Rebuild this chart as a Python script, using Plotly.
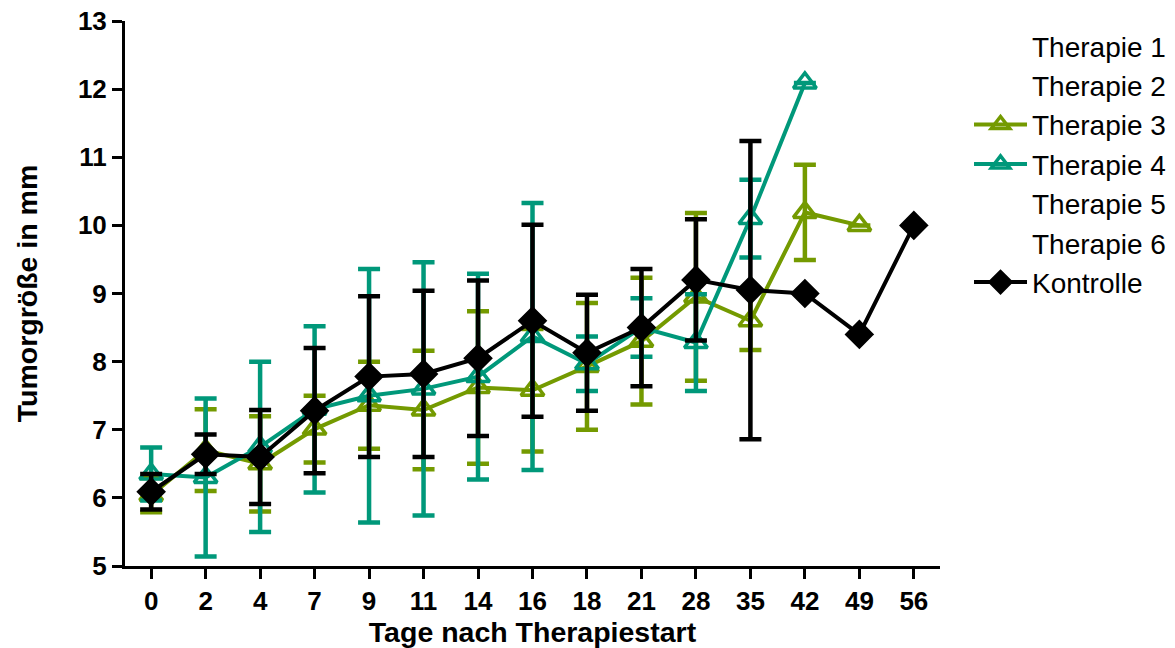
import plotly.graph_objects as go

days = ["0", "2", "4", "7", "9", "11", "14", "16", "18", "21", "28", "35", "42", "49", "56"]

therapie3_mean = [6.04, 6.70, 6.50, 7.01, 7.36, 7.29, 7.62, 7.58, 7.93, 8.30, 8.95, 8.60, 10.19, 10.0, None]
therapie3_sd = [0.25, 0.60, 0.70, 0.49, 0.64, 0.87, 1.12, 0.90, 0.93, 0.93, 1.23, 0.43, 0.70, None, None]

therapie4_mean = [6.35, 6.30, 6.75, 7.30, 7.50, 7.60, 7.78, 8.37, 7.97, 8.50, 8.28, 10.10, 12.09, None, None]
therapie4_sd = [0.39, 1.16, 1.25, 1.22, 1.86, 1.86, 1.51, 1.96, 0.40, 0.43, 0.71, 0.57, None, None, None]

kontrolle_mean = [6.09, 6.64, 6.60, 7.28, 7.78, 7.82, 8.05, 8.60, 8.13, 8.50, 9.20, 9.05, 9.00, 8.40, 10.0]
kontrolle_sd = [0.26, 0.29, 0.69, 0.92, 1.18, 1.22, 1.14, 1.41, 0.85, 0.86, 0.89, 2.19, None, None, None]

OLIVE = "#749A00"
TEAL = "#00987A"
BLACK = "#000000"
FONT = "Arial, Liberation Sans, sans-serif"

fig = go.Figure()

def empty(name):
    # series without any measured values: only its legend label is shown
    return go.Scatter(x=[days[0]], y=[None], name=name, mode="lines",
                      line=dict(color="rgba(0,0,0,0)", width=0))

def series(name, mean, sd, color, symbol, msize):
    return go.Scatter(
        x=days, y=mean, name=name, mode="lines+markers",
        line=dict(color=color, width=4),
        marker=dict(symbol=symbol, size=msize, color=color,
                    line=dict(color=color, width=3.5)),
        error_y=dict(type="data", array=sd, symmetric=True,
                     color=color, thickness=4.5, width=11),
        connectgaps=False,
    )

fig.add_trace(empty("Therapie 1"))
fig.add_trace(empty("Therapie 2"))
fig.add_trace(series("Therapie 3", therapie3_mean, therapie3_sd, OLIVE, "triangle-up-open", 20))
fig.add_trace(series("Therapie 4", therapie4_mean, therapie4_sd, TEAL, "triangle-up-open", 20))
fig.add_trace(empty("Therapie 5"))
fig.add_trace(empty("Therapie 6"))
fig.add_trace(series("Kontrolle", kontrolle_mean, kontrolle_sd, BLACK, "diamond", 19))

fig.update_layout(
    width=1175, height=648,
    margin=dict(l=125, r=235, t=21, b=82, autoexpand=False),
    plot_bgcolor="white", paper_bgcolor="white",
    font=dict(family=FONT, color="black"),
    showlegend=True,
    legend=dict(x=1.0356, xanchor="left", y=1.0, yanchor="top",
                font=dict(size=28, family=FONT, color="black"),
                itemwidth=53, tracegroupgap=0, bgcolor="rgba(0,0,0,0)"),
    xaxis=dict(
        type="category", categoryorder="array", categoryarray=days,
        range=[-0.48, 14.48],
        showline=True, linecolor="black", linewidth=3,
        ticks="outside", ticklen=10, tickwidth=3, tickcolor="black",
        tickfont=dict(size=26, family=FONT, weight="bold"),
        showgrid=False, zeroline=False, automargin=False,
        title=dict(text="Tage nach Therapiestart",
                   font=dict(size=28.5, family=FONT, weight="bold"), standoff=9),
    ),
    yaxis=dict(
        range=[5, 13], tickvals=[5, 6, 7, 8, 9, 10, 11, 12, 13],
        showline=True, linecolor="black", linewidth=3,
        ticks="outside", ticklen=10, tickwidth=3, tickcolor="black",
        tickfont=dict(size=26, family=FONT, weight="bold"),
        showgrid=False, zeroline=False, automargin=False,
        title=dict(text="Tumorgröße in mm",
                   font=dict(size=28.5, family=FONT, weight="bold"), standoff=32),
    ),
)

fig.write_html("out.html")
